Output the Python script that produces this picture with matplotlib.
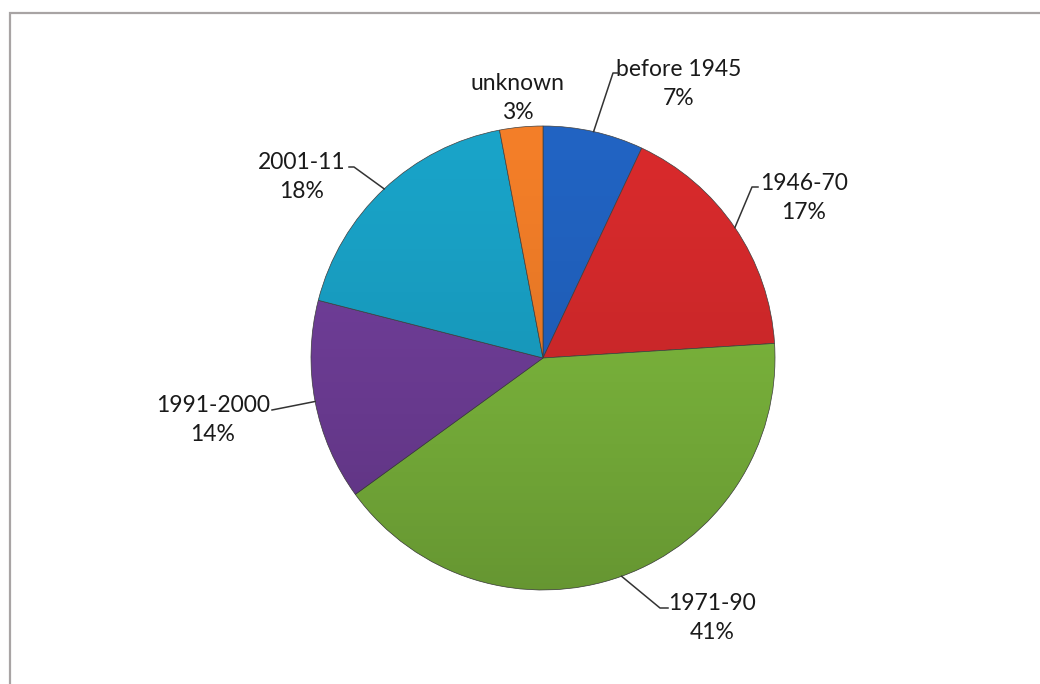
import numpy as np
import matplotlib.pyplot as plt
from matplotlib.patches import Rectangle, Circle

labels = ["before 1945", "1946-70", "1971-90", "1991-2000", "2001-11", "unknown"]
shares = [7, 17, 41, 14, 18, 3]
colors = ["#2163c2", "#d82a2c", "#7fbb3e", "#723f9c", "#19a3c8", "#f37e28"]

W, H = 1040, 684
CX, CY, R = 543, 358, 232


def px(x, y):
    # pixel position (from top-left) -> data units where pie radius is 1
    return (x - CX) / R, (CY - y) / R


# label text centre, and the bend points of each leader line (pixels)
label_pos = {
    "before 1945": (679, 84),
    "1946-70": (804, 198),
    "1971-90": (712, 618),
    "1991-2000": (213, 420),
    "2001-11": (302, 177),
    "unknown": (518, 98),
}
leader_pts = {
    "before 1945": [(613, 73), (619, 73)],
    "1946-70": [(752, 187), (758, 187)],
    "1971-90": [(660, 608), (668, 608)],
    "1991-2000": [(272, 410)],
    "2001-11": [(354, 167), (349, 167)],
}

fig = plt.figure(figsize=(W / 100, H / 100), dpi=100)
ax = fig.add_axes([0, 0, 1, 1])

wedges, _ = ax.pie(shares, colors=colors, startangle=90, counterclock=False,
                   radius=1, center=(0, 0), frame=True,
                   wedgeprops=dict(edgecolor="#404040", linewidth=0.5))

# soft shading, darker toward the bottom, roughly like the original's 3D look
grad = np.linspace(0, 1, 256).reshape(-1, 1)
shade = np.zeros((256, 1, 4))
shade[..., 3] = 0.2 * grad ** 1.5
img = ax.imshow(shade, extent=(-1, 1, -1, 1), origin="upper", zorder=3,
                interpolation="bilinear", aspect="auto")
img.set_clip_path(Circle((0, 0), 1, transform=ax.transData))

ax.set_xlim(-CX / R, (W - CX) / R)
ax.set_ylim(-(H - CY) / R, CY / R)
ax.axis("off")

for w, lab, s in zip(wedges, labels, shares):
    tx, ty = px(*label_pos[lab])
    ax.text(tx, ty, f"{lab}\n{s}%", ha="center", va="center", fontsize=16.5,
            family=["Lato", "DejaVu Sans"], color="#1a1a1a", linespacing=1.45)
    if lab in leader_pts:
        mid = np.deg2rad((w.theta1 + w.theta2) / 2)
        xs = [np.cos(mid)] + [px(*p)[0] for p in leader_pts[lab]]
        ys = [np.sin(mid)] + [px(*p)[1] for p in leader_pts[lab]]
        ax.plot(xs, ys, color="#333333", lw=1.1, zorder=4)

fig.patches.append(Rectangle((10 / W, -0.1), 1.2, 1.1 - 13 / H, transform=fig.transFigure,
                             fill=False, edgecolor="#a8a4a4", lw=1.6))

fig.savefig("out.png", dpi=100, facecolor="white")
